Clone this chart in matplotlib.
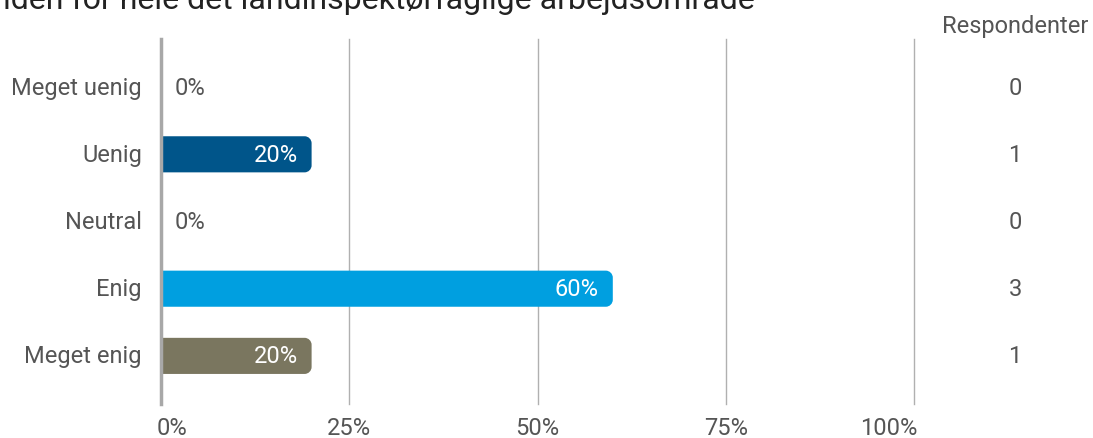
import numpy as np
import matplotlib
matplotlib.use("Agg")
import matplotlib.pyplot as plt
from matplotlib.path import Path
from matplotlib.patches import PathPatch

plt.rcParams['font.family'] = ['Roboto', 'DejaVu Sans']

categories = ["Meget uenig", "Uenig", "Neutral", "Enig", "Meget enig"]
shares = [0.0, 0.20, 0.0, 0.60, 0.20]
respondents = [0, 1, 0, 3, 1]
colors = ["#00558a", "#00558a", "#009fe0", "#009fe0", "#7a765f"]
ticks = [0, 0.25, 0.5, 0.75, 1.0]
tick_labels = ["0%", "25%", "50%", "75%", "100%"]
title = "iden for hele det landinspektørfaglige arbejdsområde"

W, H = 1093, 439
fig = plt.figure(figsize=(W / 100, H / 100), dpi=100)
ax = fig.add_axes([161 / W, 1 - 405 / H, 753 / W, 365 / H])
ax.set_xlim(0, 1)
ax.set_ylim(len(categories) - 1 + 0.716, -0.716)
ax.axis("off")

txt = "#555555"
grid = "#b0b0b0"
fs = 17


def right_rounded_bar(x1, y0, y1, rx, ry):
    """Bar from 0 to x1, square on the left and rounded on the right."""
    k = 0.5523
    verts = [(0, y0), (x1 - rx, y0),
             (x1 - rx + k * rx, y0), (x1, y0 + ry - k * ry), (x1, y0 + ry),
             (x1, y1 - ry),
             (x1, y1 - ry + k * ry), (x1 - rx + k * rx, y1), (x1 - rx, y1),
             (0, y1), (0, y0)]
    codes = [Path.MOVETO, Path.LINETO,
             Path.CURVE4, Path.CURVE4, Path.CURVE4,
             Path.LINETO,
             Path.CURVE4, Path.CURVE4, Path.CURVE4,
             Path.LINETO, Path.CLOSEPOLY]
    return Path(verts, codes)


# gridlines and the thicker zero line
for t in ticks[1:]:
    ax.axvline(t, color=grid, lw=1.0, zorder=1, clip_on=False)
ax.axvline(0, color="#a8a8a8", lw=2.5, zorder=4, clip_on=False)

bar_h = 36 / 67
rx, ry = 7 / 753, 7 / 67
for i, (cat, v, c) in enumerate(zip(categories, shares, colors)):
    y = i
    ax.text(-19 / 753, y, cat, ha="right", va="center", fontsize=fs, color=txt)
    if v > 0:
        p = right_rounded_bar(v, y - bar_h / 2, y + bar_h / 2, rx, ry)
        ax.add_patch(PathPatch(p, fc=c, ec="none", zorder=3))
        ax.text(v - 14 / 753, y, f"{v:.0%}", ha="right", va="center",
                fontsize=fs, color="white", zorder=5)
    else:
        ax.text(14 / 753, y, f"{v:.0%}", ha="left", va="center", fontsize=fs, color=txt)
    ax.text((1015 - 161) / 753, y, str(respondents[i]), ha="center", va="center",
            fontsize=fs, color=txt)

# axis tick labels under the chart
for k, (t, lab) in enumerate(zip(ticks, tick_labels)):
    ha = "left" if k == 0 else ("right" if k == len(ticks) - 1 else "center")
    xoff = -4 / 753 if k == 0 else (3 / 753 if k == len(ticks) - 1 else 0)
    fig.text((161 + 753 * (t + xoff)) / W, 1 - 429 / H, lab, ha=ha, va="center",
             fontsize=fs, color=txt)

fig.text(1015 / W, 1 - 27 / H, "Respondenter", ha="center", va="center",
         fontsize=fs, color=txt)
fig.text(3 / W, 1 - 9 / H, title, ha="left", va="baseline", fontsize=23, color="#222222")

fig.savefig("out.png", dpi=100)
